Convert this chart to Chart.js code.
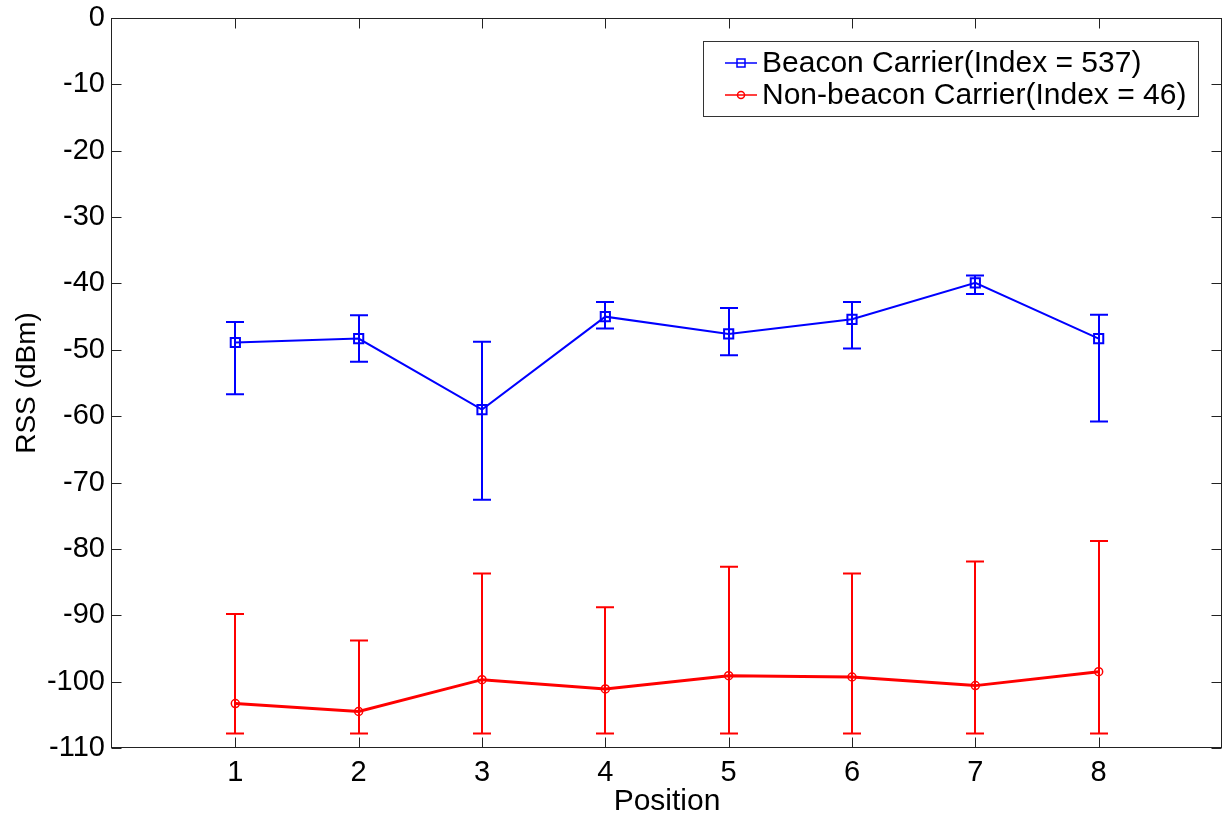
<!DOCTYPE html>
<html>
<head>
<meta charset="utf-8">
<title>RSS by position</title>
<script src="https://cdn.jsdelivr.net/npm/chart.js@4.4.1/dist/chart.umd.min.js"></script>
<style>
  html, body { margin: 0; padding: 0; background: #fff; }
  #rssChart { display: block; }
</style>
</head>
<body>
<canvas id="rssChart" width="1223" height="814"></canvas>
<script>
// measurement positions
var positions = [1, 2, 3, 4, 5, 6, 7, 8];

// beacon carrier: mean RSS and error bar ends (dBm)
var beaconMean  = [-48.9, -48.3, -59.0, -45.0, -47.6, -45.4, -39.9, -48.3];
var beaconUpper = [-45.8, -44.8, -48.8, -42.8, -43.7, -42.8, -38.8, -44.7];
var beaconLower = [-56.7, -51.8, -72.6, -46.8, -50.8, -49.8, -41.6, -60.8];

// non-beacon carrier
var otherMean  = [-103.3, -104.5, -99.7, -101.1, -99.1, -99.3, -100.6, -98.5];
var otherUpper = [-89.8, -93.8, -83.7, -88.8, -82.7, -83.7, -81.9, -78.8];
var otherLower = [-107.8, -107.8, -107.8, -107.8, -107.8, -107.8, -107.8, -107.8];

var yTicks = [0, -10, -20, -30, -40, -50, -60, -70, -80, -90, -100, -110];

var FONT = "'Liberation Sans', Arial, Helvetica, sans-serif";

function toPoints(ys) {
    return positions.map(function (p, i) { return { x: p, y: ys[i] }; });
}

var errorSets = [
    { color: "#0000ff", upper: beaconUpper, lower: beaconLower },
    { color: "#ff0000", upper: otherUpper, lower: otherLower }
];

// vertical error bars with caps, drawn under the lines
var errorBars = {
    id: "errorBars",
    beforeDatasetsDraw: function (chart) {
        var ctx = chart.ctx;
        var xs = chart.scales.x, ys = chart.scales.y;
        ctx.save();
        ctx.lineWidth = 2;
        errorSets.forEach(function (set) {
            ctx.strokeStyle = set.color;
            positions.forEach(function (p, i) {
                var px = Math.round(xs.getPixelForValue(p));
                var top = ys.getPixelForValue(set.upper[i]);
                var bot = ys.getPixelForValue(set.lower[i]);
                ctx.beginPath();
                ctx.moveTo(px, top);
                ctx.lineTo(px, bot);
                ctx.moveTo(px - 9, top);
                ctx.lineTo(px + 9, top);
                ctx.moveTo(px - 9, bot);
                ctx.lineTo(px + 9, bot);
                ctx.stroke();
            });
        });
        ctx.restore();
    }
};

// axes box with inward tick marks on all four sides
var axesBox = {
    id: "axesBox",
    afterDraw: function (chart) {
        var ctx = chart.ctx;
        var a = chart.chartArea;
        var xs = chart.scales.x, ys = chart.scales.y;
        var L = a.left - 0.5, R = a.right - 0.5, T = a.top + 0.5, B = a.bottom - 0.5;
        var len = 10;
        ctx.save();
        ctx.strokeStyle = "#222";
        ctx.lineWidth = 1;
        ctx.beginPath();
        positions.forEach(function (p) {
            var px = Math.round(xs.getPixelForValue(p)) + 0.5;
            ctx.moveTo(px, B); ctx.lineTo(px, B - len);
            ctx.moveTo(px, T); ctx.lineTo(px, T + len);
        });
        yTicks.forEach(function (v) {
            var py = Math.round(ys.getPixelForValue(v)) + 0.5;
            ctx.moveTo(L, py); ctx.lineTo(L + len, py);
            ctx.moveTo(R, py); ctx.lineTo(R - len, py);
        });
        ctx.stroke();
        ctx.strokeRect(L, T, R - L, B - T);
        ctx.restore();
    }
};

// boxed legend in the upper right corner
var boxLegend = {
    id: "boxLegend",
    afterDraw: function (chart) {
        var ctx = chart.ctx;
        var x0 = 703.5, y0 = 41.5, w = 495, h = 75;
        ctx.save();
        ctx.fillStyle = "#fff";
        ctx.fillRect(x0, y0, w, h);
        ctx.strokeStyle = "#333";
        ctx.lineWidth = 1;
        ctx.strokeRect(x0, y0, w, h);
        var rows = [63, 95];
        chart.data.datasets.forEach(function (ds, i) {
            var y = rows[i];
            ctx.strokeStyle = ds.borderColor;
            ctx.lineWidth = 1.5;
            ctx.beginPath();
            ctx.moveTo(725, y);
            ctx.lineTo(757, y);
            ctx.stroke();
            ctx.beginPath();
            if (ds.pointStyle === "rect") {
                ctx.rect(737, y - 4, 8, 8);
            } else {
                ctx.arc(741, y, 3.5, 0, Math.PI * 2);
            }
            ctx.stroke();
            ctx.fillStyle = "#000";
            ctx.font = "30px " + FONT;
            ctx.textBaseline = "middle";
            ctx.textAlign = "left";
            ctx.fillText(ds.label, 762, y + 1);
        });
        ctx.restore();
    }
};

var ctx = document.getElementById("rssChart").getContext("2d");
var rssChart = new Chart(ctx, {
    type: "line",
    data: {
        datasets: [
            {
                label: "Beacon Carrier(Index = 537)",
                data: toPoints(beaconMean),
                borderColor: "#0000ff",
                backgroundColor: "rgba(0,0,0,0)",
                borderWidth: 2,
                pointStyle: "rect",
                pointRadius: 6.5,
                pointBorderWidth: 2,
                pointBackgroundColor: "rgba(0,0,0,0)",
                tension: 0
            },
            {
                label: "Non-beacon Carrier(Index = 46)",
                data: toPoints(otherMean),
                borderColor: "#ff0000",
                backgroundColor: "rgba(0,0,0,0)",
                borderWidth: 3,
                pointStyle: "circle",
                pointRadius: 4,
                pointBorderWidth: 1.5,
                pointBackgroundColor: "rgba(0,0,0,0)",
                tension: 0
            }
        ]
    },
    options: {
        responsive: false,
        animation: false,
        layout: {
            autoPadding: false,
            padding: { top: 18, right: 1, left: 0, bottom: 0 }
        },
        plugins: {
            legend: { display: false },
            tooltip: { enabled: false }
        },
        scales: {
            x: {
                type: "linear",
                min: 0,
                max: 9,
                grid: { display: false, drawTicks: false },
                border: { display: false },
                afterBuildTicks: function (scale) {
                    scale.ticks = positions.map(function (v) { return { value: v }; });
                },
                ticks: {
                    padding: 8,
                    color: "#000",
                    font: { family: FONT, size: 29 },
                    callback: function (v) { return v; }
                },
                title: {
                    display: true,
                    text: "Position",
                    color: "#000",
                    font: { family: FONT, size: 30, lineHeight: 0.8 },
                    padding: { top: 0, bottom: 0 }
                },
                afterFit: function (scale) {
                    scale.height = 66;
                    scale.paddingLeft = 0;
                    scale.paddingRight = 0;
                }
            },
            y: {
                min: -110,
                max: 0,
                grid: { display: false, drawTicks: false },
                border: { display: false },
                afterBuildTicks: function (scale) {
                    scale.ticks = yTicks.map(function (v) { return { value: v }; });
                },
                ticks: {
                    padding: 7,
                    color: "#000",
                    font: { family: FONT, size: 29 },
                    callback: function (v) { return v; }
                },
                title: {
                    display: true,
                    text: "RSS (dBm)",
                    color: "#000",
                    font: { family: FONT, size: 28 },
                    padding: { top: 10, bottom: 0 }
                },
                afterFit: function (scale) {
                    scale.width = 112;
                    scale.paddingTop = 0;
                    scale.paddingBottom = 0;
                }
            }
        }
    },
    plugins: [errorBars, axesBox, boxLegend]
});
</script>
</body>
</html>
